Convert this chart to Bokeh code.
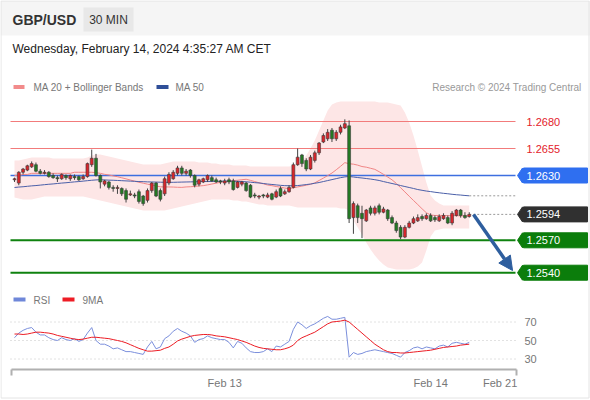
from bokeh.plotting import figure
from bokeh.models import Range1d, Arrow, NormalHead
from bokeh.core.properties import value
from bokeh.embed import file_html
from bokeh.resources import INLINE

# ---------------- data (GBP/USD, 30 min candles) ----------------
opn = [1.2626, 1.2623, 1.2633, 1.2635, 1.2638, 1.2640, 1.2634, 1.2632, 1.2633, 1.2630,
       1.2628, 1.2627, 1.2630, 1.2627, 1.2629, 1.2629, 1.2627, 1.2629, 1.2640, 1.2646,
       1.2630, 1.2622, 1.2624, 1.2619, 1.2618, 1.2618, 1.2616, 1.2612, 1.2612, 1.2615,
       1.2611, 1.2607, 1.2616, 1.2623, 1.2616, 1.2613, 1.2623, 1.2627, 1.2632, 1.2637,
       1.2632, 1.2635, 1.2630, 1.2622, 1.2624, 1.2626, 1.2628, 1.2626, 1.2625, 1.2623,
       1.2626, 1.2625, 1.2619, 1.2622, 1.2623, 1.2621, 1.2612, 1.2610, 1.2612, 1.2610,
       1.2613, 1.2610, 1.2618, 1.2613, 1.2615, 1.2619, 1.2640, 1.2649, 1.2644, 1.2636,
       1.2644, 1.2651, 1.2661, 1.2664, 1.2672, 1.2664, 1.2670, 1.2674, 1.2676, 1.2591,
       1.2602, 1.2595, 1.2588, 1.2600, 1.2595, 1.2602, 1.2596, 1.2598, 1.2591, 1.2586,
       1.2582, 1.2573, 1.2582, 1.2586, 1.2588, 1.2592, 1.2590, 1.2593, 1.2591, 1.2588,
       1.2590, 1.2591, 1.2586, 1.2593, 1.2598, 1.2593, 1.2592]
close = [1.2627, 1.2633, 1.2636, 1.2639, 1.2641, 1.2634, 1.2632, 1.2633, 1.2629, 1.2628,
         1.2627, 1.2631, 1.2628, 1.2630, 1.2628, 1.2626, 1.2629, 1.2641, 1.2646, 1.2630,
         1.2624, 1.2625, 1.2619, 1.2618, 1.2619, 1.2613, 1.2608, 1.2613, 1.2611, 1.2606,
         1.2604, 1.2616, 1.2623, 1.2611, 1.2608, 1.2627, 1.2631, 1.2633, 1.2637, 1.2632,
         1.2634, 1.2630, 1.2621, 1.2626, 1.2627, 1.2630, 1.2625, 1.2624, 1.2624, 1.2625,
         1.2624, 1.2617, 1.2624, 1.2624, 1.2616, 1.2610, 1.2611, 1.2611, 1.2611, 1.2612,
         1.2608, 1.2615, 1.2611, 1.2615, 1.2619, 1.2640, 1.2647, 1.2641, 1.2636, 1.2647,
         1.2651, 1.2660, 1.2667, 1.2670, 1.2664, 1.2670, 1.2675, 1.2678, 1.2590, 1.2604,
         1.2591, 1.2590, 1.2598, 1.2595, 1.2600, 1.2596, 1.2599, 1.2590, 1.2586, 1.2579,
         1.2573, 1.2582, 1.2586, 1.2590, 1.2591, 1.2590, 1.2593, 1.2588, 1.2589, 1.2592,
         1.2593, 1.2586, 1.2595, 1.2598, 1.2593, 1.2591, 1.2594]
high = [1.2628, 1.2634, 1.2637, 1.2640, 1.2643, 1.2642, 1.2636, 1.2635, 1.2634, 1.2632,
        1.2630, 1.2632, 1.2631, 1.2631, 1.2631, 1.2630, 1.2631, 1.2642, 1.2654, 1.2650,
        1.2631, 1.2626, 1.2625, 1.2621, 1.2621, 1.2619, 1.2618, 1.2616, 1.2614, 1.2617,
        1.2612, 1.2618, 1.2624, 1.2624, 1.2618, 1.2629, 1.2633, 1.2635, 1.2639, 1.2639,
        1.2636, 1.2636, 1.2631, 1.2627, 1.2628, 1.2631, 1.2630, 1.2628, 1.2626, 1.2627,
        1.2628, 1.2627, 1.2625, 1.2625, 1.2624, 1.2622, 1.2614, 1.2612, 1.2613, 1.2614,
        1.2614, 1.2617, 1.2620, 1.2617, 1.2621, 1.2642, 1.2655, 1.2650, 1.2646, 1.2649,
        1.2653, 1.2661, 1.2669, 1.2673, 1.2674, 1.2672, 1.2677, 1.2682, 1.2681, 1.2606,
        1.2604, 1.2602, 1.2599, 1.2602, 1.2602, 1.2604, 1.2601, 1.2599, 1.2593, 1.2588,
        1.2584, 1.2584, 1.2588, 1.2592, 1.2594, 1.2594, 1.2595, 1.2595, 1.2593, 1.2594,
        1.2595, 1.2593, 1.2597, 1.2599, 1.2599, 1.2596, 1.2596]
low = [1.2624, 1.2621, 1.2631, 1.2634, 1.2637, 1.2633, 1.2631, 1.2631, 1.2628, 1.2627,
       1.2624, 1.2626, 1.2626, 1.2625, 1.2626, 1.2625, 1.2626, 1.2628, 1.2638, 1.2629,
       1.2618, 1.2620, 1.2617, 1.2615, 1.2613, 1.2611, 1.2605, 1.2611, 1.2609, 1.2604,
       1.2602, 1.2605, 1.2614, 1.2610, 1.2606, 1.2611, 1.2621, 1.2626, 1.2630, 1.2630,
       1.2630, 1.2628, 1.2619, 1.2620, 1.2623, 1.2624, 1.2624, 1.2623, 1.2622, 1.2621,
       1.2622, 1.2616, 1.2618, 1.2620, 1.2615, 1.2609, 1.2609, 1.2608, 1.2609, 1.2609,
       1.2607, 1.2609, 1.2610, 1.2612, 1.2614, 1.2618, 1.2639, 1.2638, 1.2634, 1.2635,
       1.2642, 1.2649, 1.2660, 1.2662, 1.2661, 1.2662, 1.2668, 1.2673, 1.2586, 1.2576,
       1.2586, 1.2572, 1.2587, 1.2593, 1.2593, 1.2594, 1.2595, 1.2588, 1.2585, 1.2577,
       1.2571, 1.2572, 1.2581, 1.2585, 1.2587, 1.2588, 1.2589, 1.2587, 1.2587, 1.2587,
       1.2589, 1.2585, 1.2584, 1.2592, 1.2591, 1.2590, 1.2591]

ma20 = [1.2630, 1.2630, 1.2631, 1.2631, 1.2632, 1.2632, 1.2632, 1.2632, 1.2632, 1.2632,
        1.2632, 1.2632, 1.2632, 1.2632, 1.2633, 1.2633, 1.2633, 1.2633, 1.2633, 1.26326,
        1.26320, 1.26311, 1.26305, 1.26296, 1.26289, 1.26279, 1.26269, 1.26258, 1.26248, 1.26237,
        1.26229, 1.26220, 1.26212, 1.26204, 1.26195, 1.26194, 1.26194, 1.26193, 1.26191, 1.26190,
        1.26194, 1.26196, 1.26199, 1.26203, 1.26206, 1.26213, 1.26221, 1.26229, 1.26237, 1.26244,
        1.26248, 1.26253, 1.26256, 1.26261, 1.26265, 1.26255, 1.26244, 1.26233, 1.26223, 1.26212,
        1.26206, 1.26198, 1.26192, 1.26184, 1.26178, 1.26186, 1.26194, 1.26202, 1.26210, 1.26219,
        1.26232, 1.26254, 1.26276, 1.26299, 1.26323, 1.26353, 1.26385, 1.26419, 1.26409, 1.26405,
        1.26396, 1.26383, 1.26377, 1.26367, 1.26357, 1.26335, 1.26311, 1.26286, 1.26260, 1.26227,
        1.26187, 1.26148, 1.26108, 1.26069, 1.26031, 1.25992, 1.25955, 1.25935, 1.25930, 1.25930,
        1.25930, 1.25928, 1.25928, 1.25928, 1.25926, 1.25926, 1.25925]
ma50 = [1.26189, 1.26193, 1.26196, 1.26200, 1.26204, 1.26207, 1.26211, 1.26215, 1.26219, 1.26222,
        1.26226, 1.26230, 1.26233, 1.26237, 1.26241, 1.26244, 1.26248, 1.26252, 1.26256, 1.26259,
        1.26261, 1.26259, 1.26257, 1.26256, 1.26254, 1.26252, 1.26250, 1.26248, 1.26246, 1.26244,
        1.26243, 1.26241, 1.26240, 1.26239, 1.26238, 1.26237, 1.26237, 1.26237, 1.26238, 1.26239,
        1.26240, 1.26241, 1.26242, 1.26243, 1.26244, 1.26244, 1.26245, 1.26246, 1.26247, 1.26248,
        1.26248, 1.26247, 1.26246, 1.26244, 1.26242, 1.26238, 1.26234, 1.26231, 1.26226, 1.26221,
        1.26217, 1.26213, 1.26209, 1.26206, 1.26205, 1.26205, 1.26207, 1.26211, 1.26216, 1.26221,
        1.26228, 1.26235, 1.26244, 1.26253, 1.26262, 1.26271, 1.26280, 1.26287, 1.26291, 1.26286,
        1.26281, 1.26277, 1.26272, 1.26267, 1.26261, 1.26254, 1.26244, 1.26235, 1.26226, 1.26217,
        1.26207, 1.26198, 1.26189, 1.26180, 1.26170, 1.26163, 1.26156, 1.26151, 1.26145, 1.26140,
        1.26135, 1.26131, 1.26126, 1.26122, 1.26119, 1.26115, 1.26112]
bb_upper = [1.26439, 1.26439, 1.26448, 1.26457, 1.26467, 1.26467, 1.26467, 1.26467, 1.26467, 1.26457,
            1.26457, 1.26457, 1.26457, 1.26457, 1.26457, 1.26457, 1.26457, 1.26467, 1.26485, 1.26494,
            1.26494, 1.26485, 1.26476, 1.26467, 1.26457, 1.26448, 1.26439, 1.26430, 1.26420, 1.26411,
            1.26402, 1.26402, 1.26402, 1.26402, 1.26402, 1.26411, 1.26420, 1.26430, 1.26430, 1.26430,
            1.26430, 1.26430, 1.26430, 1.26420, 1.26420, 1.26420, 1.26411, 1.26411, 1.26402, 1.26402,
            1.26402, 1.26393, 1.26393, 1.26393, 1.26393, 1.26383, 1.26383, 1.26383, 1.26383, 1.26383,
            1.26383, 1.26383, 1.26383, 1.26383, 1.26383, 1.26393, 1.26411, 1.26439, 1.26485, 1.26550,
            1.26624, 1.26717, 1.26809, 1.26902, 1.26957, 1.26976, 1.26985, 1.26985, 1.26985, 1.26985,
            1.26985, 1.26985, 1.26985, 1.26985, 1.26985, 1.26976, 1.26976, 1.26976, 1.26967, 1.26957,
            1.26948, 1.26883, 1.26791, 1.26670, 1.26532, 1.26383, 1.26235, 1.26115, 1.26069, 1.26041,
            1.26022, 1.26022, 1.26022, 1.26022, 1.26022, 1.26022, 1.26022]
bb_lower = [1.26096, 1.26087, 1.26078, 1.26078, 1.26078, 1.26087, 1.26096, 1.26106, 1.26106, 1.26106,
            1.26106, 1.26106, 1.26106, 1.26106, 1.26106, 1.26106, 1.26106, 1.26096, 1.26087, 1.26078,
            1.26069, 1.26059, 1.26050, 1.26041, 1.26031, 1.26022, 1.26013, 1.26004, 1.25994, 1.25985,
            1.25976, 1.25976, 1.25976, 1.25976, 1.25976, 1.25976, 1.25985, 1.25994, 1.26004, 1.26013,
            1.26022, 1.26031, 1.26041, 1.26050, 1.26059, 1.26069, 1.26078, 1.26078, 1.26078, 1.26078,
            1.26078, 1.26069, 1.26069, 1.26059, 1.26059, 1.26050, 1.26041, 1.26031, 1.26031, 1.26022,
            1.26022, 1.26022, 1.26022, 1.26022, 1.26022, 1.26013, 1.26004, 1.26004, 1.26004, 1.26004,
            1.26004, 1.26004, 1.26004, 1.26004, 1.26004, 1.26004, 1.25994, 1.25994, 1.25976, 1.25883,
            1.25819, 1.25754, 1.25680, 1.25615, 1.25559, 1.25513, 1.25476, 1.25448, 1.25439, 1.25430,
            1.25430, 1.25430, 1.25430, 1.25439, 1.25457, 1.25494, 1.25605, 1.25735, 1.25791, 1.25800,
            1.25809, 1.25809, 1.25809, 1.25809, 1.25809, 1.25809, 1.25809]

rsi = [53, 58, 61, 63, 64, 59, 56, 56, 53, 51,
       50, 53, 51, 50, 52, 49, 51, 58, 64, 50,
       46, 46, 44, 41, 42, 40, 38, 38, 37, 36,
       35, 43, 49, 41, 43, 52, 55, 60, 63, 60,
       58, 55, 48, 51, 52, 55, 53, 52, 51, 51,
       48, 42, 49, 47, 42, 38, 37, 37, 38, 41,
       38, 44, 43, 46, 49, 62, 70, 67, 63, 66,
       68, 71, 74, 76, 73, 73, 74, 75, 32, 37,
       35, 36, 38, 39, 40, 39, 38, 37, 36, 34,
       32, 37, 39, 42, 43, 41, 43, 42, 41, 44,
       45, 43, 47, 48, 47, 46, 48]
rsi_ma = [57, 57, 56.5, 57, 58, 59, 59, 58.5, 58, 57,
          55.5, 54.5, 53.5, 52.5, 51.5, 51, 51.5, 52.5, 53.5, 53.5,
          53, 52.5, 52, 51, 50, 49, 47.5, 45.5, 43.5, 41.5,
          40, 38.5, 38.5, 39, 39.5, 41.5, 43, 46, 49.5, 51.5,
          53, 54.5, 55.5, 56, 56.5, 56.5, 56, 55, 54.5, 54,
          53, 52, 51, 49.5, 48, 46, 44, 42.5, 41.5, 41,
          40.5, 40, 40, 41, 42.5, 45, 50, 53, 55, 57,
          59, 62, 65, 68, 70, 70.5, 71, 72, 70, 66,
          62, 58, 54, 50, 46, 43, 40, 38, 37, 37,
          36.5, 36.5, 37, 37.5, 38, 38.5, 39, 39.5, 40.5, 41.5,
          42.5, 43, 43.5, 44, 45, 45.5, 46]

resistances = [1.2680, 1.2655]
pivot = 1.2630
last_price = 1.2594
supports = [1.2570, 1.2540]
rsi_levels = [70, 50, 30]
tick_idx = [49, 97, 113.2]
tick_labels = ["Feb 13", "Feb 14", "Feb 21"]
arrow_idx = [107.0, 116.1]
proj_end_idx = 116.8

# ---------------- figure ----------------
FONT = value("Liberation Sans")
W, H = 590, 400
p = figure(width=W, height=H, output_backend="svg", toolbar_location=None,
           x_range=Range1d(-3.2634, 134.266), y_range=Range1d(1.242167, 1.279204),
           x_axis_type=None, y_axis_type=None, min_border=0,
           background_fill_color="white", border_fill_color="white",
           styles={"position": "absolute", "left": "0px", "top": "0px"})
p.outline_line_color = None
p.grid.visible = False
p.extra_x_ranges = {"px": Range1d(0, W)}
p.extra_y_ranges = {"px": Range1d(H, 0), "rsi": Range1d(-14.865, 417.57)}


def txt(x, y, s, size, color, align="left", bold=False, xr="px", yr="px"):
    p.text(x=[x], y=[y], text=[s], x_range_name=xr, y_range_name=yr,
           text_font=FONT, text_font_size=f"{size}px", text_color=color,
           text_align=align, text_baseline="middle",
           text_font_style="bold" if bold else "normal")


# header
p.quad(left=[0], right=[W], top=[0], bottom=[35], x_range_name="px", y_range_name="px",
       fill_color="#f5f5f5", line_color=None)
p.quad(left=[83], right=[133], top=[7], bottom=[31], x_range_name="px", y_range_name="px",
       fill_color="#e8e8e8", line_color=None)
txt(12, 19.5, "GBP/USD", 14, "#333333", bold=True)
txt(108, 19.5, "30 MIN", 12, "#333333", align="center")
txt(12, 48.5, "Wednesday, February 14, 2024 4:35:27 AM CET", 12, "#222222")

# legend rows
p.quad(left=[13, 156], right=[24, 168], top=[84.5, 84.5], bottom=[88.5, 88.5],
       x_range_name="px", y_range_name="px", fill_color=["#f28b8b", "#2f4f98"], line_color=None)
txt(33, 86.5, "MA 20 + Bollinger Bands", 10, "#777777")
txt(175, 86.5, "MA 50", 10, "#777777")
txt(581, 86.5, "Research \u00a9 2024 Trading Central", 10, "#999999", align="right")

p.quad(left=[13, 62], right=[25, 74], top=[297, 297], bottom=[301, 301],
       x_range_name="px", y_range_name="px", fill_color=["#6f87d9", "#ee1c25"], line_color=None)
txt(33, 299.5, "RSI", 10, "#777777")
txt(82, 299.5, "9MA", 10, "#777777")

# outer frame
p.quad(left=[0.5], right=[588.5], top=[0.5], bottom=[397.5], x_range_name="px", y_range_name="px",
       fill_color=None, line_color="#e4e4e4", line_width=1)

# bollinger band fill
idx = list(range(len(close)))
p.varea(x=idx, y1=bb_lower, y2=bb_upper, fill_color="#fde6e6")

# levels
p.segment(x0=[10] * 2, x1=[515] * 2, y0=resistances, y1=resistances, x_range_name="px",
          line_color="#f27b7b", line_width=1)
p.segment(x0=[10], x1=[515], y0=[pivot], y1=[pivot], x_range_name="px",
          line_color="#3d6fe0", line_width=1.5)
p.segment(x0=[10] * 2, x1=[515] * 2, y0=supports, y1=supports, x_range_name="px",
          line_color="#0f820f", line_width=2)

# moving averages
p.line(idx, ma20, line_color="#f08585", line_width=1)
p.line(idx, ma50, line_color="#4a5fa8", line_width=1)

# projection dotted lines
p.segment(x0=[idx[-1], idx[-1]], x1=[proj_end_idx] * 2, y0=[ma50[-1], last_price],
          y1=[ma50[-1], last_price], line_color="#999999", line_dash="2 2", line_width=1)

# candles
up = [c > o for o, c in zip(opn, close)]
body_col = ["#d9252b" if u else "#237a23" for u in up]
p.segment(x0=idx, x1=idx, y0=low, y1=high, line_color="#444444", line_width=1)
p.vbar(x=idx, width=0.68, top=[max(o, c) for o, c in zip(opn, close)],
       bottom=[min(o, c) for o, c in zip(opn, close)], fill_color=body_col,
       line_color="#3a3a3a", line_width=0.6)

# price labels
for lv in resistances:
    txt(526, lv, f"{lv:.4f}", 11, "#e3212b", yr="default")
tags = [(pivot, "#2f6ff0"), (last_price, "#303030"), (supports[0], "#0b7d0b"), (supports[1], "#0b7d0b")]
for lv, col in tags:
    p.scatter(x=[522], y=[lv], marker="diamond", size=15, x_range_name="px",
              fill_color=col, line_color=col)
    p.rect(x=[555], y=[lv], width=64, height=15, width_units="screen", height_units="screen",
           x_range_name="px", fill_color=col, line_color=col)
    txt(526, lv, f"{lv:.4f}", 11, "white", yr="default")

# forecast arrow
p.add_layout(Arrow(end=NormalHead(size=14, fill_color="#2e5e9e", line_color="#2e5e9e"),
                   x_start=arrow_idx[0], y_start=last_price, x_end=arrow_idx[1],
                   y_end=supports[1] + 0.0002, line_color="#2e5e9e", line_width=3.5))

# RSI panel
p.segment(x0=[10] * 3, x1=[515] * 3, y0=rsi_levels, y1=rsi_levels, x_range_name="px",
          y_range_name="rsi", line_color="#c4c4c4", line_dash="1 3", line_width=1)
for lv in rsi_levels:
    txt(524, lv, str(lv), 11, "#777777", yr="rsi")
p.line(idx, rsi, y_range_name="rsi", line_color="#7b8fdc", line_width=1)
p.line(idx, rsi_ma, y_range_name="rsi", line_color="#ec1c24", line_width=1)

# time axis
p.segment(x0=[11, 11, 516], x1=[516, 11, 516], y0=[369, 369, 369], y1=[369, 375, 375],
          x_range_name="px", y_range_name="px", line_color="#b0b0b0", line_width=2)
for tx, tl in zip(tick_idx, tick_labels):
    txt(tx, 382.5, tl, 11, "#777777", align="center", xr="default")

open("out.html", "w").write(file_html(p, INLINE))
